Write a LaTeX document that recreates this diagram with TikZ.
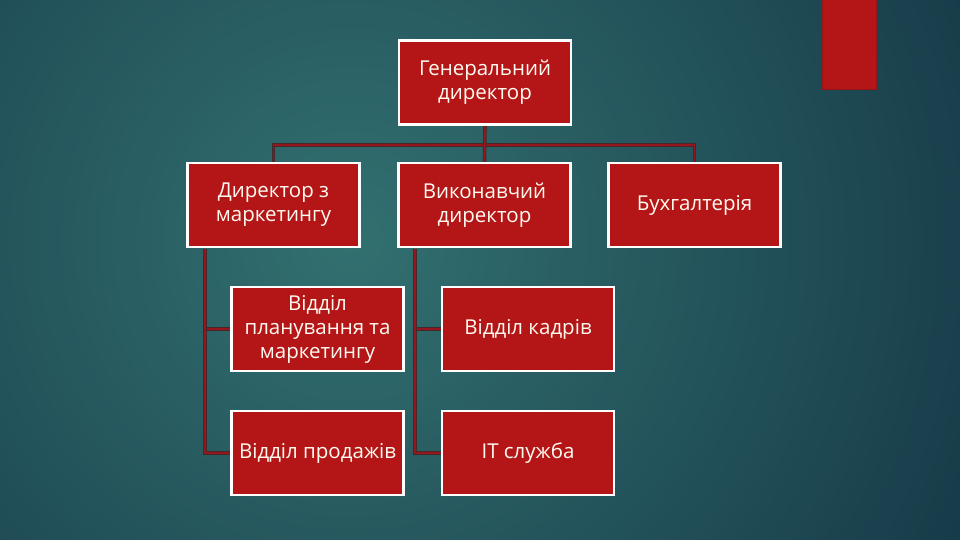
\documentclass[tikz,border=0pt]{standalone}
\usepackage{fontspec}
\setmainfont{Open Sans}
\definecolor{boxred}{RGB}{180,22,24}
\definecolor{bgin}{RGB}{50,112,112}
\definecolor{bgout}{RGB}{14,42,60}
\definecolor{connred}{RGB}{150,22,30}
\definecolor{conndark}{RGB}{70,40,42}
\definecolor{txt}{RGB}{255,250,240}
\pgfdeclarelayer{back}
\pgfdeclarelayer{conns}
\pgfsetlayers{back,conns,main}
\tikzset{
  orgbox/.style={draw=white, line width=2.5pt, fill=boxred, text=txt,
    minimum width=172pt, minimum height=84pt, align=center,
    font=\fontsize{20.5}{24}\selectfont, inner sep=1pt},
  conn/.style={draw=connred, line width=1.8pt, preaction={draw=conndark, line width=3.6pt}},
}
\begin{document}
\begin{tikzpicture}[x=1pt,y=-1pt]
\useasboundingbox (0,0) rectangle (960,540);

\node[orgbox] (gd) at (485,82.5) {Генеральний\\директор};
\node[orgbox] (dm) at (273.5,205) {Директор з\\маркетингу};
\node[orgbox] (vd) at (484.5,205) {Виконавчий\\директор};
\node[orgbox] (bh) at (694.5,205) {Бухгалтерія};
\node[orgbox] (pm) at (317.5,329) {Відділ\\планування та\\маркетингу};
\node[orgbox] (kd) at (528,329) {Відділ кадрів};
\node[orgbox] (pr) at (317.5,453) {Відділ продажів};
\node[orgbox] (it) at (528,453) {IT служба};

\coordinate (bus) at (485,145);
\coordinate (lx) at (205,249);
\coordinate (rx) at (415,249);

\begin{pgfonlayer}{back}
\begin{scope}
\clip (0,0) rectangle (960,540);
\fill[bgout] (0,0) rectangle (960,540);
\shade[inner color=bgin, outer color=bgout] (350,240) circle (900);
\end{scope}
\fill[boxred, draw={rgb,255:red,150;green,20;blue,22}, line width=0.8pt] (822,-2) rectangle (876,89);
\end{pgfonlayer}

\begin{pgfonlayer}{conns}
\draw[conn] (dm.north) |- (bus) -| (bh.north);
\draw[conn] (gd.south) -- (vd.north);
\draw[conn] (lx) |- (pm.west);
\draw[conn] (lx) |- (pr.west);
\draw[conn] (rx) |- (kd.west);
\draw[conn] (rx) |- (it.west);
\end{pgfonlayer}
\end{tikzpicture}
\end{document}
